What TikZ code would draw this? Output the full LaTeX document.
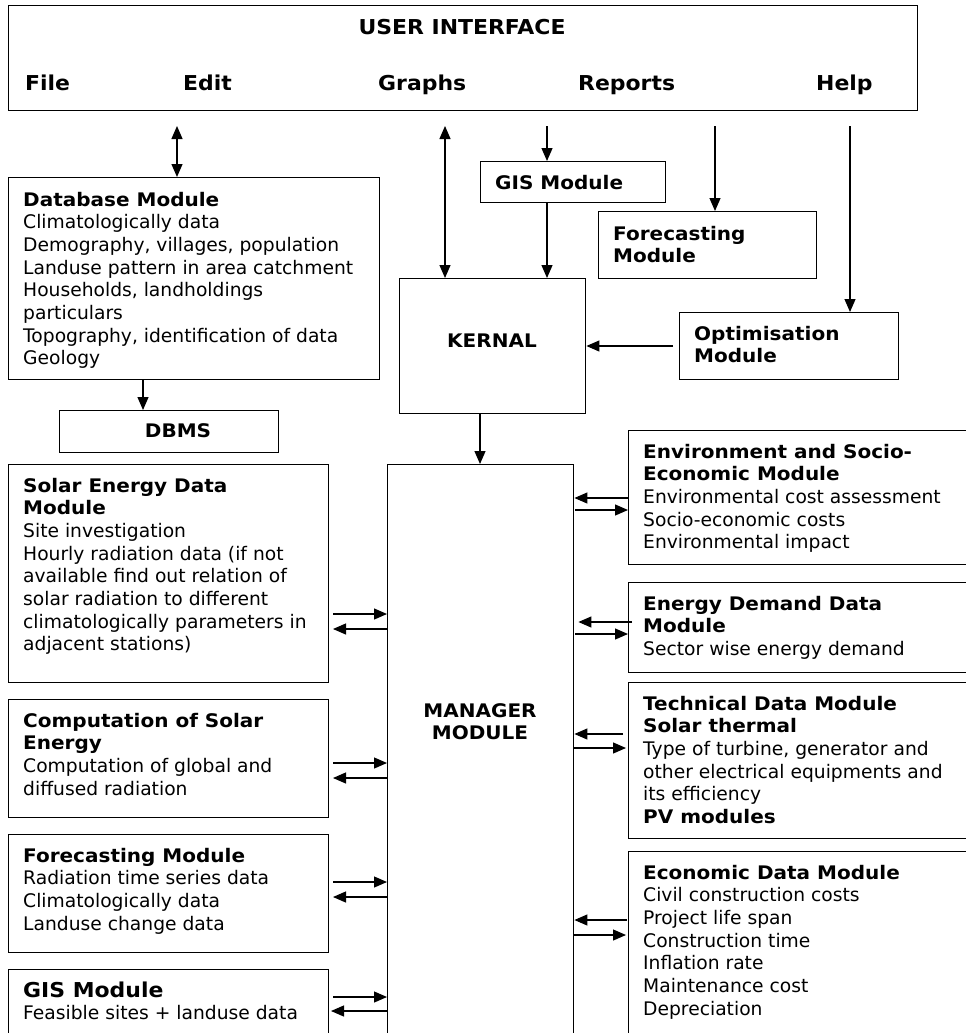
\documentclass[tikz,border=0pt]{standalone}
\usepackage{fontspec}
\setmainfont{DejaVu Sans}[BoldFeatures={FakeStretch=1.07}]
\usetikzlibrary{arrows.meta}
\newcommand\boxlines[1]{\begin{tabular}[t]{@{}l@{}}#1\end{tabular}}
\newcommand\boxcentre[1]{\begin{tabular}[t]{@{}c@{}}#1\end{tabular}}
\tikzset{
  box/.style={draw, line width=1.4pt, inner sep=0pt, anchor=north west},
  txt/.style={inner sep=0pt, anchor=base west, font=\fontsize{18.7}{22.7}\selectfont},
  ctxt/.style={inner sep=0pt, anchor=base, font=\fontsize{18.7}{22.7}\selectfont\bfseries},
  uitxt/.style={inner sep=0pt, anchor=base west, font=\fontsize{20.5}{24}\selectfont\bfseries},
  tip/.tip={Triangle[length=13pt,width=11pt]},
  arr/.style={line width=1.2pt, -tip},
  darr/.style={line width=1.2pt, tip-tip},
}
\begin{document}
\begin{tikzpicture}[x=1pt,y=-1pt]
\clip (0,0) rectangle (966,1033);
\fill[white] (0,0) rectangle (966,1033);
% boxes
\node[box, minimum width=909pt, minimum height=105pt] (ui) at (8,5) {};
\node[box, minimum width=371pt, minimum height=202pt] (db) at (8,177) {};
\node[box, minimum width=219pt, minimum height=42pt] (dbms) at (59,410) {};
\node[box, minimum width=185pt, minimum height=41pt] (gisa) at (480,161) {};
\node[box, minimum width=218pt, minimum height=67pt] (fca) at (598,211) {};
\node[box, minimum width=219pt, minimum height=67pt] (opt) at (679,312) {};
\node[box, minimum width=186pt, minimum height=135pt] (kern) at (399,278) {};
\node[box, minimum width=186pt, minimum height=600pt] (mgr) at (387,464) {};
\node[box, minimum width=320pt, minimum height=218pt] (solar) at (8,464) {};
\node[box, minimum width=320pt, minimum height=118pt] (comp) at (8,699) {};
\node[box, minimum width=320pt, minimum height=118pt] (fcb) at (8,834) {};
\node[box, minimum width=320pt, minimum height=100pt] (gisb) at (8,969) {};
\node[box, minimum width=360pt, minimum height=134pt] (env) at (628,430) {};
\node[box, minimum width=360pt, minimum height=90pt] (ed) at (628,582) {};
\node[box, minimum width=360pt, minimum height=156pt] (tech) at (628,682) {};
\node[box, minimum width=360pt, minimum height=200pt] (econ) at (628,851) {};
% user interface texts
\node[uitxt, anchor=base] (uititle) at (462,35) {USER INTERFACE};
\node[uitxt] (mfile) at (25,90.5) {File};
\node[uitxt] (medit) at (183,90.5) {Edit};
\node[uitxt] (mgraphs) at (378,90.5) {Graphs};
\node[uitxt] (mreports) at (578,90.5) {Reports};
\node[uitxt] (mhelp) at (816,90.5) {Help};
% box texts
\node[txt] (dbt) at (23,206) {\boxlines{\textbf{Database Module}\\Climatologically data\\Demography, villages, population\\Landuse pattern in area catchment\\Households, landholdings\\particulars\\Topography, identification of data\\Geology}};
\node[ctxt] (dbmst) at (178,437) {DBMS};
\node[txt] (gisat) at (495,189) {\textbf{GIS Module}};
\node[txt] (fcat) at (613,240) {\boxlines{\textbf{Forecasting}\\\textbf{Module}}};
\node[txt] (optt) at (694,340) {\boxlines{\textbf{Optimisation}\\\textbf{Module}}};
\node[ctxt] (kernt) at (492,347) {KERNAL};
\node[ctxt] (mgrt) at (480,717) {\boxcentre{MANAGER\\MODULE}};
\node[txt] (solart) at (23,492) {\boxlines{\textbf{Solar Energy Data}\\\textbf{Module}\\Site investigation\\Hourly radiation data (if not\\available find out relation of\\solar radiation to different\\climatologically parameters in\\adjacent stations)}};
\node[txt] (compt) at (23,727) {\boxlines{\textbf{Computation of Solar}\\\textbf{Energy}\\Computation of global and\\diffused radiation}};
\node[txt] (fcbt) at (23,862) {\boxlines{\textbf{Forecasting Module}\\Radiation time series data\\Climatologically data\\Landuse change data}};
\node[txt] (gisbt) at (23,997) {\boxlines{{\fontsize{20.5}{22.7}\selectfont\textbf{GIS Module}}\\Feasible sites + landuse data}};
\node[txt] (envt) at (643,458) {\boxlines{\textbf{Environment and Socio-}\\\textbf{Economic Module}\\Environmental cost assessment\\Socio-economic costs\\Environmental impact}};
\node[txt] (edt) at (643,610) {\boxlines{\textbf{Energy Demand Data}\\\textbf{Module}\\Sector wise energy demand}};
\node[txt] (techt) at (643,710) {\boxlines{\textbf{Technical Data Module}\\\textbf{Solar thermal}\\Type of turbine, generator and\\other electrical equipments and\\its efficiency\\\textbf{PV modules}}};
\node[txt] (econt) at (643,879) {\boxlines{\textbf{Economic Data Module}\\Civil construction costs\\Project life span\\Construction time\\Inflation rate\\Maintenance cost\\Depreciation}};
% top connectors
\coordinate (cE) at (177,126);
\coordinate (cG) at (445,126);
\coordinate (cR) at (547,126);
\coordinate (cP) at (715,126);
\coordinate (cH) at (850,126);
\draw[darr] (cE) -- (cE |- db.north);
\draw[darr] (cG) -- (cG |- kern.north);
\draw[arr] (cR) -- (cR |- gisa.north);
\draw[arr] (cR |- gisa.south) -- (cR |- kern.north);
\draw[arr] (cP) -- (cP |- fca.north);
\draw[arr] (cH) -- (cH |- opt.north);
\coordinate (cO) at (673,346);
\draw[arr] (cO) -- (cO -| kern.east);
\coordinate (cK) at (480,420);
\draw[arr] (cK |- kern.south) -- (cK |- mgr.north);
\coordinate (cD) at (143,390);
\draw[arr] (cD |- db.south) -- (cD |- dbms.north);
% left side connectors
\coordinate (l1a) at (333,614); \coordinate (l1b) at (333,629);
\coordinate (l2a) at (333,763); \coordinate (l2b) at (333,778);
\coordinate (l3a) at (333,882); \coordinate (l3b) at (333,897);
\coordinate (l4a) at (333,997); \coordinate (l4b) at (331,1011);
\draw[arr] (l1a) -- (l1a -| mgr.west);
\draw[arr] (l1b -| mgr.west) -- (l1b);
\draw[arr] (l2a) -- (l2a -| mgr.west);
\draw[arr] (l2b -| mgr.west) -- (l2b);
\draw[arr] (l3a) -- (l3a -| mgr.west);
\draw[arr] (l3b -| mgr.west) -- (l3b);
\draw[arr] (l4a) -- (l4a -| mgr.west);
\draw[arr] (l4b -| mgr.west) -- (l4b);
% right side connectors
\coordinate (r1a) at (628,498); \coordinate (r1b) at (575,510);
\coordinate (r2a) at (632,622); \coordinate (r2b) at (575,634);
\coordinate (r3a) at (623,734); \coordinate (r3b) at (573,748);
\coordinate (r4a) at (627,920); \coordinate (r4b) at (573,935);
\draw[arr] (r1a) -- (r1a -| mgr.east);
\draw[arr] (r1b) -- (r1b -| env.west);
\draw[arr] (r2a) -- ([xshift=4pt]r2a -| mgr.east);
\draw[arr] (r2b) -- (r2b -| ed.west);
\draw[arr] (r3a) -- (r3a -| mgr.east);
\draw[arr] (r3b) -- ([xshift=-2pt]r3b -| tech.west);
\draw[arr] (r4a) -- (r4a -| mgr.east);
\draw[arr] (r4b) -- ([xshift=-2pt]r4b -| econ.west);
\end{tikzpicture}
\end{document}
